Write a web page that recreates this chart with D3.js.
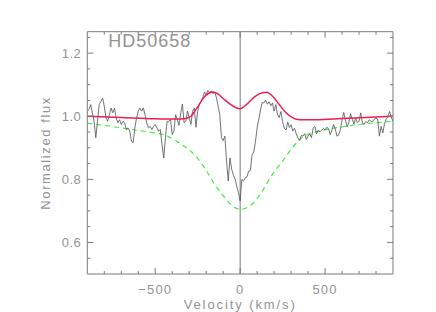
<!DOCTYPE html>
<html>
<head>
<meta charset="utf-8">
<script src="https://cdn.jsdelivr.net/npm/d3@7"></script>
<style>
  body { margin: 0; background: #fff; }
  text { font-family: "Liberation Sans", Arial, sans-serif; fill: #939393; }
</style>
</head>
<body>
<div id="chart"></div>
<script>
// observed spectrum, sampled every 10 km/s from -900 to 900
var velStep = 10;
var velocity = d3.range(-900, 901, velStep);
var flux = [
  1.016,
  1.021, 1.037, 1.011, 0.984, 0.932, 0.984, 1.037, 1.047, 1.058, 1.032,
  0.995, 0.984, 1.005, 1.026, 1.011, 1.026, 0.995, 0.979, 0.989, 0.974,
  0.984, 0.979, 0.958, 0.963, 0.953, 0.921, 0.916, 0.963, 0.995, 1.016,
  1.026, 1.016, 1.026, 1.005, 0.979, 0.963, 0.968, 0.958, 0.968, 0.974,
  0.963, 0.953, 0.958, 0.911, 0.868, 0.932, 0.984,
  0.984, 0.989, 0.942, 0.953, 1.005, 0.989, 0.971, 1.011, 1.039, 0.979,
  0.984, 1.016, 0.995, 0.974, 1.016, 1.026, 0.965, 1.016, 1.037, 1.047,
  1.060, 1.077, 1.068, 1.082, 1.075, 1.080, 1.071, 1.077, 1.060, 1.033,
  1.005, 0.932, 0.923, 0.937, 0.858, 0.795, 0.868, 0.832, 0.814, 0.802,
  0.779, 0.758,
  0.732,
  0.800, 0.795, 0.805, 0.808, 0.826, 0.828, 0.877, 0.887, 0.919, 0.963,
  0.991, 1.020, 1.044, 1.042, 1.052, 1.038, 1.046, 1.033, 1.042, 1.016,
  1.037, 1.005, 0.996, 1.015, 0.983, 0.962, 0.956, 0.982, 0.964, 0.973,
  0.953, 0.962, 0.945, 0.931, 0.923, 0.939, 0.937, 0.945, 0.926, 0.938,
  0.944, 0.932, 0.963, 0.968,
  0.944, 0.956, 0.951, 0.956, 0.961, 0.957, 0.965, 0.961, 0.942, 0.955,
  0.974, 0.960, 0.937, 0.940, 0.958, 0.988, 1.012, 0.988, 0.966, 0.981,
  1.008, 0.991, 0.975, 0.994, 0.980, 0.984, 1.011, 0.979, 0.974, 0.984,
  0.979, 0.989, 0.984, 0.984, 0.991, 0.995, 0.989, 0.937, 0.968, 0.947,
  0.976, 0.991, 0.999, 1.015, 0.997, 0.984
];

// emission model (red)
var modelVel = [-900, -700, -500, -380, -320, -290, -270, -250, -230, -210, -185, -160, -130, -95, -55, -25, 0,
  35, 75, 112, 155, 190, 230, 270, 310, 350, 450, 600, 900];
var modelFlux = [1.0, 0.996, 0.992, 0.991, 0.993, 1.0, 1.014, 1.03, 1.047, 1.062, 1.073, 1.077, 1.07, 1.054, 1.037, 1.027, 1.024,
  1.036, 1.057, 1.071, 1.076, 1.064, 1.037, 1.011, 0.995, 0.989, 0.989, 0.993, 1.0];

// photospheric absorption (green dashed)
var photVel = [-900, -760, -600, -500, -440, -390, -330, -270, -210, -150, -95, -45, 0,
  70, 130, 190, 250, 300, 340, 390, 460, 620, 900];
var photFlux = [0.978, 0.968, 0.955, 0.947, 0.940, 0.926, 0.905, 0.879, 0.837, 0.784, 0.745, 0.716, 0.705,
  0.721, 0.763, 0.816, 0.858, 0.895, 0.921, 0.940, 0.952, 0.968, 0.984];

var title = "HD50658";
var xMajor = [-500, 0, 500];
var yMajor = [0.6, 0.8, 1.0, 1.2];

var svgWidth = 436;
var svgHeight = 312;

var margin = { top: 31.7, right: 43, bottom: 38, left: 87.3 };
var chartWidth = svgWidth - margin.left - margin.right;
var chartHeight = svgHeight - margin.top - margin.bottom;

var svg = d3.select("#chart")
  .append("svg")
  .attr("width", svgWidth)
  .attr("height", svgHeight);

var chartGroup = svg.append("g")
  .attr("transform", `translate(${margin.left}, ${margin.top})`);

var xScale = d3.scaleLinear()
  .domain([-900, 900])
  .range([0, chartWidth]);

var yScale = d3.scaleLinear()
  .domain([0.5, 1.268])
  .range([chartHeight, 0]);

var axisColor = "#7a7a7a";

// clip the curves to the plot box
chartGroup.append("clipPath")
  .attr("id", "box")
  .append("rect")
  .attr("width", chartWidth)
  .attr("height", chartHeight);

// vertical line at zero velocity
chartGroup.append("line")
  .attr("x1", xScale(0))
  .attr("x2", xScale(0))
  .attr("y1", 0)
  .attr("y2", chartHeight)
  .attr("stroke", axisColor)
  .attr("stroke-width", 1);

var spec = velocity.map(function(v, i) { return { v: v, f: flux[i] }; });
var model = modelVel.map(function(v, i) { return { v: v, f: modelFlux[i] }; });
var phot = photVel.map(function(v, i) { return { v: v, f: photFlux[i] }; });

var lineLinear = d3.line()
  .x(d => xScale(d.v))
  .y(d => yScale(d.f));

var lineSmooth = d3.line()
  .x(d => xScale(d.v))
  .y(d => yScale(d.f))
  .curve(d3.curveMonotoneX);

var curves = chartGroup.append("g").attr("clip-path", "url(#box)");

curves.append("path")
  .datum(phot)
  .attr("d", lineSmooth)
  .attr("fill", "none")
  .attr("stroke", "#3ef03e")
  .attr("stroke-width", 1.2)
  .attr("stroke-dasharray", "5,4");

curves.append("path")
  .datum(spec)
  .attr("d", lineLinear)
  .attr("fill", "none")
  .attr("stroke", "#585858")
  .attr("stroke-width", 0.85);

curves.append("path")
  .datum(model)
  .attr("d", lineSmooth)
  .attr("fill", "none")
  .attr("stroke", "#ec1e4e")
  .attr("stroke-width", 1.5);

// axes: major ticks 6px, minor 3px, all pointing inward
var xMinor = d3.range(-800, 801, 100).filter(v => xMajor.indexOf(v) < 0);
var yMinor = d3.range(0.55, 1.26, 0.05).filter(v => !yMajor.some(m => Math.abs(m - v) < 1e-6));

function addX(g, dir, labels) {
  var ax = g.append("g");
  ax.selectAll("line.maj").data(xMajor).enter().append("line")
    .attr("x1", d => xScale(d)).attr("x2", d => xScale(d))
    .attr("y1", 0).attr("y2", dir * 6);
  ax.selectAll("line.min").data(xMinor).enter().append("line")
    .attr("x1", d => xScale(d)).attr("x2", d => xScale(d))
    .attr("y1", 0).attr("y2", dir * 3);
  ax.selectAll("line").attr("stroke", axisColor).attr("stroke-width", 1);
  ax.append("line")
    .attr("x1", 0).attr("x2", chartWidth).attr("y1", 0).attr("y2", 0)
    .attr("stroke", axisColor).attr("stroke-width", 1);
  if (labels) {
    ax.selectAll("text").data(xMajor).enter().append("text")
      .attr("x", d => xScale(d))
      .attr("y", 20)
      .attr("text-anchor", "middle")
      .attr("font-size", 13)
      .attr("letter-spacing", 1.2)
      .text(d => d < 0 ? "\u2212" + Math.abs(d) : d);
  }
  return ax;
}

function addY(g, dir, labels) {
  var ay = g.append("g");
  ay.selectAll("line.maj").data(yMajor).enter().append("line")
    .attr("y1", d => yScale(d)).attr("y2", d => yScale(d))
    .attr("x1", 0).attr("x2", dir * 6);
  ay.selectAll("line.min").data(yMinor).enter().append("line")
    .attr("y1", d => yScale(d)).attr("y2", d => yScale(d))
    .attr("x1", 0).attr("x2", dir * 3);
  ay.selectAll("line").attr("stroke", axisColor).attr("stroke-width", 1);
  ay.append("line")
    .attr("x1", 0).attr("x2", 0).attr("y1", 0).attr("y2", chartHeight)
    .attr("stroke", axisColor).attr("stroke-width", 1);
  if (labels) {
    ay.selectAll("text").data(yMajor).enter().append("text")
      .attr("x", -6)
      .attr("y", d => yScale(d) + 5)
      .attr("text-anchor", "end")
      .attr("font-size", 13)
      .attr("letter-spacing", 0.5)
      .text(d => d3.format(".1f")(d));
  }
  return ay;
}

addX(chartGroup.append("g").attr("transform", `translate(0, ${chartHeight})`), -1, true);
addX(chartGroup.append("g"), 1, false);
addY(chartGroup.append("g"), 1, true);
addY(chartGroup.append("g").attr("transform", `translate(${chartWidth}, 0)`), -1, false);

// title inside the plot
chartGroup.append("text")
  .attr("x", 21)
  .attr("y", 15.6)
  .attr("font-size", 18)
  .attr("letter-spacing", 1)
  .text(title);

// axis titles
svg.append("text")
  .attr("x", margin.left + xScale(0))
  .attr("y", 308.5)
  .attr("text-anchor", "middle")
  .attr("font-size", 13)
  .attr("letter-spacing", 1.9)
  .text("Velocity (km/s)");

svg.append("text")
  .attr("transform", `translate(50, ${margin.top + chartHeight / 2}) rotate(-90)`)
  .attr("text-anchor", "middle")
  .attr("font-size", 13)
  .attr("letter-spacing", 1.6)
  .text("Normalized flux");
</script>
</body>
</html>
